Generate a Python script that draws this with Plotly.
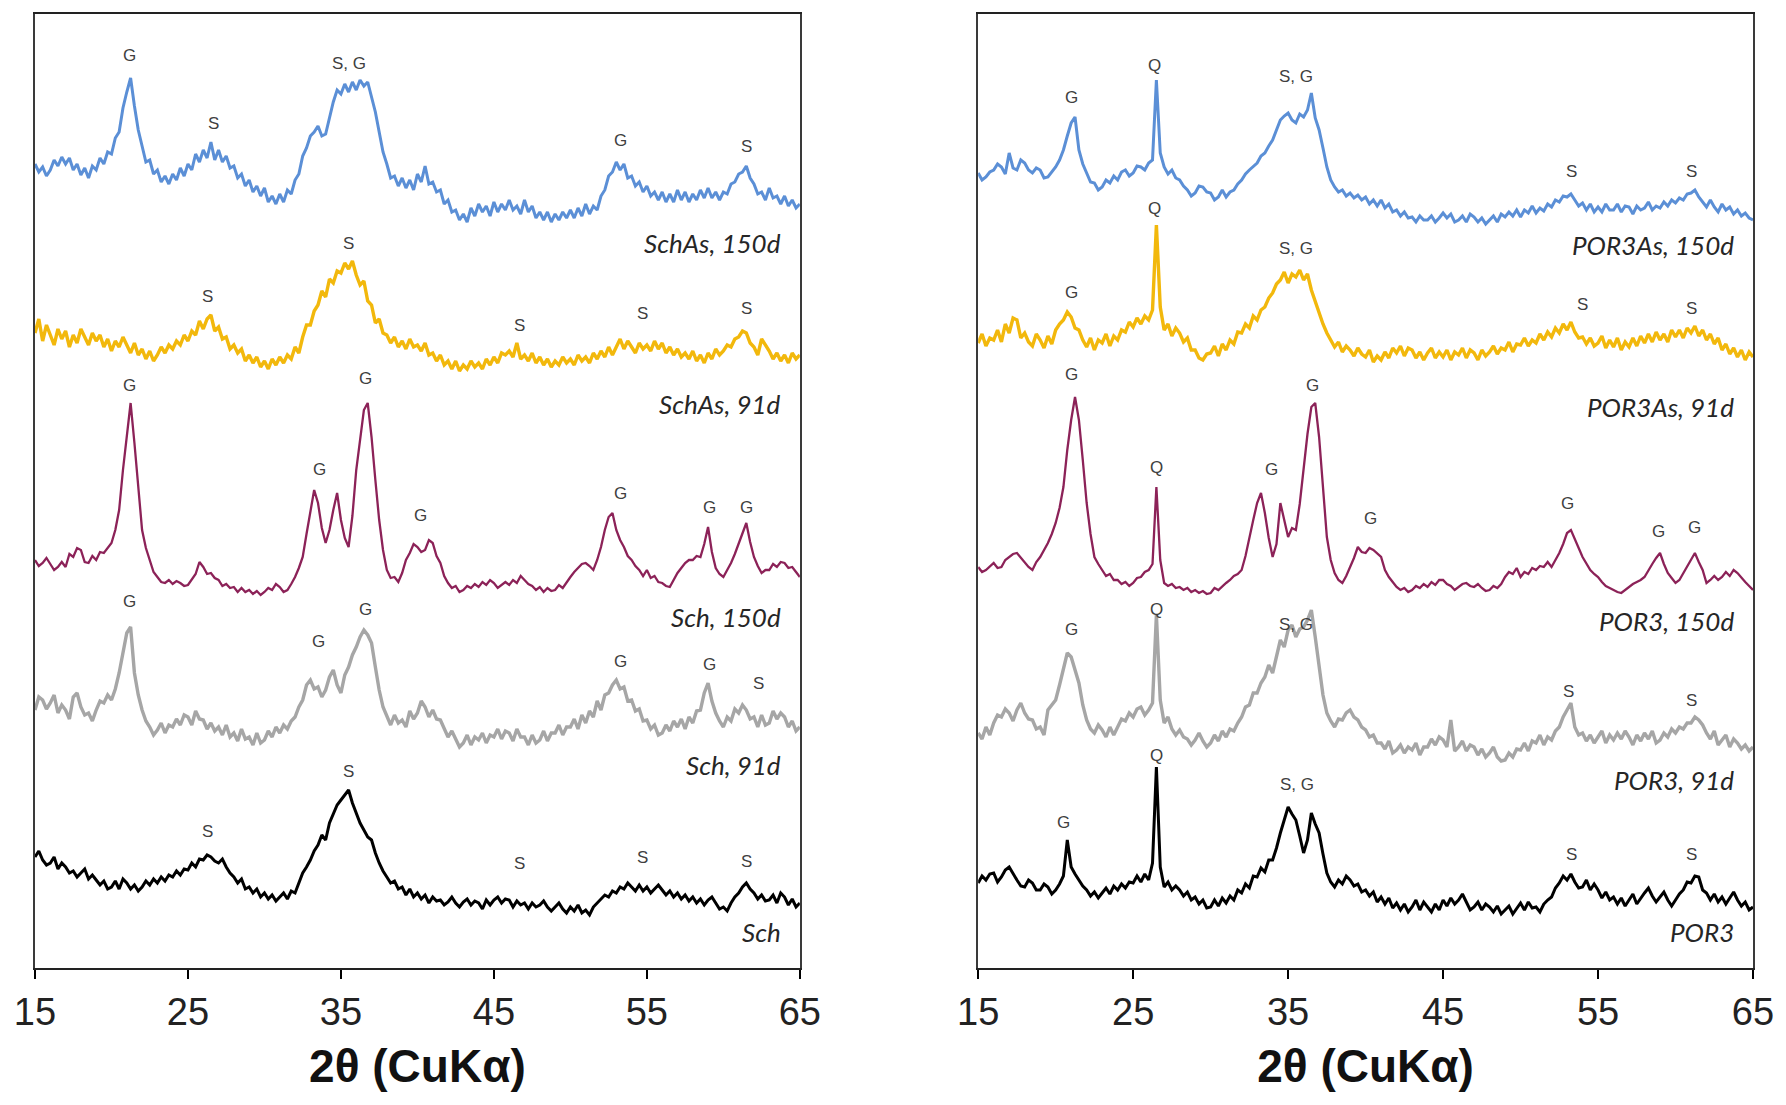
import numpy as np
import plotly.graph_objects as go

# XRD patterns, intensity (a.u.) sampled every 0.25 deg 2-theta from 15 to 65 deg
STEP = 0.25
THETA_START = 15

# ---- Schwertmannite series ----
schas_150d = [
    66, 58, 63, 54, 60, 70, 64, 73, 66, 72, 60, 66, 55, 62, 52, 64, 60, 72, 66, 78,
    76, 92, 98, 122, 138, 152, 124, 100, 84, 68, 70, 56, 60, 48, 54, 46, 56, 50, 62, 54,
    66, 60, 76, 68, 80, 72, 88, 70, 80, 68, 74, 62, 64, 52, 56, 44, 50, 38, 44, 34,
    42, 28, 34, 26, 36, 28, 40, 36, 50, 56, 74, 82, 94, 98, 104, 94, 96, 112, 128, 140,
    136, 146, 138, 148, 140, 150, 144, 148, 132, 118, 98, 78, 66, 52, 54, 44, 52, 42, 50, 40,
    56, 48, 64, 46, 48, 38, 40, 26, 30, 18, 20, 10, 16, 8, 22, 14, 26, 18, 24, 14,
    28, 18, 26, 20, 30, 20, 24, 16, 30, 18, 24, 12, 18, 10, 18, 8, 16, 10, 18, 12,
    20, 12, 22, 14, 26, 16, 24, 20, 34, 40, 54, 58, 68, 60, 66, 52, 54, 44, 48, 38,
    44, 34, 38, 30, 38, 28, 36, 28, 40, 30, 38, 28, 36, 30, 40, 32, 42, 32, 38, 30,
    38, 36, 46, 48, 56, 58, 64, 52, 46, 36, 38, 30, 42, 32, 34, 26, 34, 24, 30, 22,
    26,
]
schas_91d = [
    42, 56, 34, 50, 40, 30, 46, 36, 44, 28, 40, 32, 46, 38, 30, 42, 34, 40, 28, 36,
    24, 34, 28, 38, 30, 22, 32, 20, 26, 16, 24, 14, 20, 28, 22, 30, 26, 34, 30, 40,
    34, 44, 40, 54, 46, 56, 60, 44, 48, 36, 38, 26, 30, 22, 26, 14, 20, 12, 18, 8,
    14, 6, 16, 10, 18, 12, 20, 16, 28, 22, 38, 50, 50, 64, 70, 84, 78, 96, 92, 104,
    102, 112, 106, 114, 100, 90, 94, 74, 70, 52, 56, 42, 40, 32, 38, 28, 34, 26, 36, 28,
    30, 24, 32, 20, 22, 14, 20, 10, 14, 6, 14, 4, 10, 6, 14, 8, 12, 6, 16, 10,
    18, 12, 22, 20, 24, 18, 32, 16, 20, 14, 22, 12, 18, 10, 16, 8, 14, 10, 18, 12,
    16, 10, 20, 14, 18, 12, 22, 16, 24, 18, 28, 20, 28, 36, 26, 34, 28, 22, 32, 26,
    30, 24, 34, 26, 32, 22, 28, 20, 26, 18, 22, 16, 24, 14, 20, 12, 22, 16, 26, 20,
    24, 30, 28, 36, 38, 44, 42, 32, 28, 20, 36, 30, 24, 16, 22, 14, 20, 12, 22, 16,
    20,
]
sch_150d = [
    40, 34, 37, 42, 36, 30, 33, 38, 33, 46, 43, 52, 50, 38, 37, 44, 40, 48, 47, 52,
    57, 70, 90, 130, 163, 197, 157, 112, 70, 52, 40, 28, 23, 18, 17, 20, 16, 19, 17, 14,
    15, 20, 26, 38, 33, 26, 27, 22, 20, 14, 16, 12, 13, 8, 12, 8, 10, 6, 9, 5,
    8, 12, 10, 16, 13, 8, 10, 16, 23, 32, 43, 66, 90, 110, 97, 72, 57, 70, 90, 107,
    80, 62, 53, 84, 130, 162, 190, 197, 163, 120, 80, 50, 30, 22, 23, 18, 27, 40, 47, 56,
    53, 48, 50, 60, 57, 44, 37, 24, 17, 12, 14, 8, 10, 14, 12, 16, 13, 18, 15, 20,
    17, 12, 15, 18, 15, 20, 17, 24, 20, 16, 14, 10, 13, 8, 12, 9, 10, 15, 12, 18,
    23, 28, 32, 36, 37, 34, 30, 40, 53, 70, 83, 87, 70, 60, 53, 44, 40, 34, 30, 24,
    30, 22, 24, 18, 17, 14, 13, 20, 27, 32, 37, 40, 40, 44, 43, 56, 73, 48, 32, 26,
    23, 30, 37, 46, 57, 66, 77, 58, 43, 34, 27, 30, 30, 36, 33, 38, 37, 32, 33, 28,
    23,
]
sch_91d = [
    45, 58, 55, 46, 52, 60, 42, 50, 45, 36, 58, 62, 48, 40, 42, 34, 45, 54, 52, 60,
    55, 66, 82, 104, 122, 128, 82, 60, 45, 34, 28, 20, 25, 32, 22, 30, 28, 36, 30, 40,
    38, 30, 44, 36, 35, 26, 32, 24, 28, 20, 30, 18, 22, 14, 26, 16, 18, 10, 22, 12,
    15, 24, 18, 28, 22, 30, 26, 34, 38, 48, 55, 70, 75, 66, 68, 58, 65, 78, 85, 70,
    62, 80, 88, 100, 108, 118, 125, 120, 112, 88, 65, 48, 38, 30, 40, 32, 35, 28, 44, 36,
    42, 54, 48, 38, 45, 36, 35, 26, 18, 24, 16, 8, 12, 20, 10, 18, 15, 22, 12, 20,
    18, 26, 16, 24, 22, 14, 26, 18, 18, 10, 20, 12, 15, 24, 14, 22, 22, 30, 20, 28,
    28, 36, 26, 40, 32, 44, 38, 54, 45, 60, 62, 70, 75, 66, 68, 54, 55, 44, 46, 34,
    35, 26, 30, 20, 22, 30, 24, 34, 28, 36, 26, 38, 32, 44, 45, 62, 72, 54, 42, 34,
    28, 38, 34, 46, 42, 50, 45, 36, 38, 28, 40, 30, 32, 44, 36, 42, 38, 28, 34, 24,
    28,
]
sch = [
    58, 64, 55, 50, 52, 58, 46, 52, 48, 42, 44, 38, 42, 46, 36, 40, 35, 30, 34, 26,
    28, 34, 26, 36, 32, 26, 30, 24, 28, 34, 30, 36, 32, 38, 34, 40, 38, 44, 40, 46,
    45, 52, 48, 56, 55, 60, 58, 54, 52, 56, 48, 42, 38, 32, 36, 26, 28, 22, 26, 18,
    22, 16, 20, 14, 18, 22, 16, 24, 22, 32, 42, 48, 55, 64, 70, 80, 75, 92, 102, 110,
    115, 120, 125, 112, 102, 92, 85, 78, 75, 62, 52, 44, 38, 32, 34, 26, 28, 20, 26, 18,
    22, 16, 20, 12, 18, 14, 15, 10, 13, 18, 12, 8, 13, 16, 10, 14, 12, 6, 15, 10,
    15, 18, 12, 16, 15, 8, 14, 10, 12, 6, 12, 8, 10, 14, 8, 4, 8, 12, 6, 2,
    8, 4, 10, 2, 5, 0, 8, 12, 15, 20, 18, 24, 22, 28, 26, 32, 28, 24, 30, 24,
    28, 22, 26, 30, 25, 20, 24, 18, 22, 16, 20, 14, 18, 12, 16, 10, 15, 18, 12, 6,
    8, 4, 12, 18, 22, 28, 32, 26, 22, 16, 20, 14, 15, 20, 12, 22, 18, 10, 16, 8,
    12,
]

# ---- POR3 series ----
por3as_150d = [
    55, 48, 51, 56, 58, 64, 61, 54, 75, 60, 58, 68, 65, 58, 55, 60, 58, 50, 51, 56,
    61, 68, 78, 92, 105, 111, 78, 64, 55, 46, 45, 38, 41, 48, 45, 52, 48, 56, 58, 52,
    55, 62, 61, 58, 65, 68, 148, 75, 61, 54, 58, 50, 48, 42, 38, 32, 35, 42, 41, 36,
    35, 28, 31, 38, 31, 36, 38, 44, 48, 54, 58, 62, 65, 72, 75, 82, 88, 98, 108, 112,
    115, 108, 105, 114, 111, 118, 135, 110, 98, 80, 61, 48, 41, 36, 38, 32, 35, 30, 33, 28,
    31, 24, 28, 22, 28, 20, 24, 16, 18, 12, 16, 10, 11, 6, 12, 8, 8, 12, 6, 10,
    15, 10, 14, 6, 8, 12, 6, 14, 11, 6, 10, 4, 8, 12, 6, 14, 11, 16, 12, 18,
    11, 18, 15, 22, 15, 20, 17, 24, 21, 28, 26, 32, 31, 34, 28, 22, 25, 18, 24, 16,
    21, 16, 24, 18, 18, 24, 16, 22, 21, 14, 22, 18, 20, 26, 18, 22, 20, 26, 22, 28,
    25, 30, 28, 34, 35, 38, 31, 26, 21, 28, 21, 16, 24, 18, 21, 14, 18, 12, 15, 10,
    8,
]
por3as_91d = [
    25, 34, 22, 30, 28, 38, 26, 44, 35, 50, 48, 30, 35, 26, 22, 34, 28, 20, 32, 24,
    38, 44, 48, 56, 51, 40, 38, 28, 21, 30, 18, 28, 25, 34, 22, 32, 28, 38, 36, 46,
    41, 50, 44, 52, 48, 58, 143, 61, 38, 44, 32, 40, 35, 26, 30, 18, 18, 10, 8, 14,
    15, 22, 12, 24, 18, 28, 24, 36, 35, 44, 40, 52, 48, 58, 61, 70, 75, 84, 88, 96,
    85, 94, 91, 98, 88, 94, 78, 66, 55, 44, 35, 28, 21, 26, 16, 22, 18, 12, 20, 14,
    11, 18, 6, 12, 8, 16, 10, 20, 15, 22, 12, 20, 18, 10, 16, 8, 15, 20, 10, 16,
    11, 18, 8, 16, 13, 20, 10, 18, 15, 8, 18, 12, 16, 22, 14, 20, 18, 26, 16, 24,
    23, 30, 22, 28, 25, 34, 28, 36, 31, 40, 35, 44, 38, 46, 36, 30, 31, 24, 30, 22,
    25, 32, 20, 28, 21, 30, 18, 26, 21, 30, 22, 32, 25, 34, 26, 36, 28, 34, 26, 38,
    31, 38, 30, 40, 35, 42, 32, 38, 28, 34, 24, 30, 18, 24, 14, 20, 11, 18, 8, 16,
    11,
]
por3_150d = [
    33, 28, 30, 34, 37, 32, 33, 40, 43, 46, 47, 42, 37, 33, 30, 38, 43, 50, 57, 66,
    77, 92, 113, 150, 180, 203, 180, 140, 97, 66, 43, 36, 30, 24, 26, 20, 20, 16, 18, 14,
    17, 22, 23, 28, 30, 36, 113, 40, 17, 14, 16, 12, 13, 10, 12, 8, 10, 7, 9, 6,
    7, 12, 10, 14, 17, 20, 24, 26, 30, 44, 63, 80, 97, 107, 87, 62, 43, 56, 97, 80,
    63, 72, 70, 96, 130, 166, 193, 197, 163, 110, 63, 40, 27, 20, 17, 24, 33, 42, 53, 48,
    47, 52, 50, 46, 43, 30, 23, 18, 13, 10, 12, 8, 10, 14, 12, 16, 13, 18, 15, 20,
    20, 16, 14, 10, 13, 16, 17, 14, 13, 16, 12, 9, 10, 14, 12, 16, 23, 28, 26, 32,
    23, 28, 26, 32, 30, 34, 33, 38, 33, 40, 47, 56, 67, 70, 60, 52, 43, 36, 30, 26,
    23, 18, 14, 12, 10, 8, 7, 10, 13, 16, 18, 20, 23, 30, 36, 42, 47, 36, 27, 22,
    17, 20, 27, 34, 40, 47, 38, 30, 17, 20, 24, 20, 23, 28, 24, 30, 27, 22, 18, 14,
    10,
]
por3_91d = [
    32, 26, 38, 30, 42, 50, 48, 56, 52, 44, 55, 62, 52, 46, 45, 36, 38, 30, 55, 60,
    65, 80, 98, 112, 108, 96, 82, 60, 45, 36, 32, 40, 35, 28, 38, 30, 38, 46, 44, 52,
    48, 56, 58, 50, 55, 62, 150, 65, 42, 48, 36, 30, 35, 28, 26, 20, 25, 32, 24, 18,
    22, 30, 24, 34, 28, 36, 34, 42, 48, 58, 60, 72, 72, 82, 88, 100, 92, 108, 125, 118,
    135, 140, 128, 136, 138, 145, 155, 128, 98, 70, 52, 44, 38, 46, 45, 52, 55, 48, 45, 38,
    35, 28, 30, 22, 22, 16, 24, 12, 15, 20, 12, 18, 15, 22, 10, 18, 18, 26, 20, 28,
    25, 18, 45, 14, 18, 24, 14, 20, 18, 10, 16, 8, 12, 18, 8, 4, 5, 12, 8, 16,
    15, 22, 14, 24, 22, 30, 20, 28, 25, 34, 38, 48, 55, 62, 38, 30, 32, 24, 30, 22,
    28, 34, 22, 30, 25, 32, 26, 34, 28, 20, 30, 24, 32, 26, 34, 22, 25, 32, 28, 36,
    32, 38, 36, 42, 42, 48, 45, 40, 32, 26, 34, 20, 25, 30, 18, 26, 22, 16, 20, 14,
    18,
]
por3 = [
    37, 44, 40, 46, 47, 38, 43, 50, 53, 46, 40, 34, 33, 40, 37, 30, 30, 36, 33, 26,
    30, 36, 44, 80, 53, 46, 40, 34, 30, 24, 28, 22, 27, 32, 26, 34, 30, 36, 32, 38,
    37, 44, 38, 46, 40, 57, 153, 53, 33, 38, 30, 34, 30, 24, 28, 20, 23, 16, 20, 12,
    13, 20, 14, 22, 17, 24, 20, 30, 27, 36, 32, 44, 43, 52, 48, 60, 60, 72, 87, 100,
    113, 106, 100, 84, 67, 80, 107, 96, 87, 66, 47, 38, 33, 40, 36, 44, 40, 34, 36, 28,
    30, 24, 28, 18, 23, 16, 22, 12, 17, 10, 16, 8, 13, 20, 10, 18, 13, 8, 16, 10,
    20, 14, 22, 16, 20, 26, 18, 10, 13, 18, 10, 16, 13, 8, 14, 6, 10, 14, 6, 12,
    17, 10, 18, 12, 13, 8, 16, 20, 23, 32, 37, 44, 40, 46, 38, 32, 33, 40, 30, 36,
    30, 22, 28, 20, 23, 16, 22, 14, 20, 26, 16, 22, 27, 32, 24, 18, 23, 28, 20, 14,
    20, 26, 30, 38, 37, 44, 43, 30, 27, 20, 26, 18, 23, 16, 22, 28, 20, 14, 18, 10,
    13,
]

# sample names, vertical stacking offsets, line colours and widths
left_series = [
    ("SchAs, 150d", schas_150d, 738, "#5B8FD6", 3.0),
    ("SchAs, 91d", schas_91d, 593, "#F2B80C", 3.4),
    ("Sch, 150d", sch_150d, 368, "#8C2258", 2.3),
    ("Sch, 91d", sch_91d, 213, "#A6A6A6", 3.4),
    ("Sch", sch, 53, "#000000", 3.0),
]
right_series = [
    ("POR3As, 150d", por3as_150d, 740, "#5B8FD6", 3.0),
    ("POR3As, 91d", por3as_91d, 600, "#F2B80C", 3.4),
    ("POR3, 150d", por3_150d, 368, "#8C2258", 2.3),
    ("POR3, 91d", por3_91d, 203, "#A6A6A6", 3.4),
    ("POR3", por3, 48, "#000000", 3.0),
]

# name label heights for each pattern
left_name_y = [725, 564, 351, 203, 36]
right_name_y = [723, 561, 347, 188, 36]

# phase labels: G = goethite, S = schwertmannite, Q = quartz  (text, 2theta, height)
left_peaks = [
    ("G", 21.2, 913), ("S", 26.7, 845), ("S, G", 35.5, 905), ("G", 53.3, 828), ("S", 61.5, 822),
    ("S", 26.3, 672), ("S", 35.5, 725), ("S", 46.7, 643), ("S", 54.7, 655), ("S", 61.5, 660),
    ("G", 21.2, 583), ("G", 33.6, 499), ("G", 36.6, 590), ("G", 40.2, 453), ("G", 53.3, 475),
    ("G", 59.1, 461), ("G", 61.5, 461),
    ("G", 21.2, 367), ("G", 33.5, 327), ("G", 36.6, 359), ("G", 53.3, 307), ("G", 59.1, 304),
    ("S", 62.3, 285),
    ("S", 26.3, 137), ("S", 35.5, 197), ("S", 46.7, 105), ("S", 54.7, 111), ("S", 61.5, 107),
]
right_peaks = [
    ("G", 21.0, 871), ("Q", 26.4, 903), ("S, G", 35.5, 892), ("S", 53.3, 797), ("S", 61.0, 797),
    ("G", 21.0, 676), ("Q", 26.4, 760), ("S, G", 35.5, 720), ("S", 54.0, 664), ("S", 61.0, 660),
    ("G", 21.0, 594), ("Q", 26.5, 501), ("G", 33.9, 499), ("G", 36.6, 583), ("G", 40.3, 450),
    ("G", 53.0, 465), ("G", 58.9, 437), ("G", 61.2, 441),
    ("G", 21.0, 339), ("Q", 26.5, 359), ("S, G", 35.5, 344), ("S", 53.1, 277), ("S", 61.0, 268),
    ("G", 20.5, 146), ("Q", 26.5, 213), ("S, G", 35.6, 184), ("S", 53.3, 114), ("S", 61.0, 114),
]

x_ticks = [15, 25, 35, 45, 55, 65]
x_title = "<b>2θ (CuKα)</b>"

fig = go.Figure()

annotations = []
for series, names_y, peaks, xa, ya in [
    (left_series, left_name_y, left_peaks, "x", "y"),
    (right_series, right_name_y, right_peaks, "x2", "y2"),
]:
    for (name, counts, offset, color, lw), ny in zip(series, names_y):
        counts = np.asarray(counts, dtype=float)
        theta = THETA_START + STEP * np.arange(len(counts))
        fig.add_trace(go.Scatter(
            x=theta, y=counts + offset, mode="lines", name=name,
            line=dict(color=color, width=lw), xaxis=xa, yaxis=ya,
            hoverinfo="skip", showlegend=False,
        ))
        annotations.append(dict(
            x=63.9, y=ny, xref=xa, yref=ya, text=name, showarrow=False,
            xanchor="right", yanchor="middle",
            font=dict(family="Lato", size=26, color="#262626", style="italic"),
        ))
    for text, th, h in peaks:
        annotations.append(dict(
            x=th, y=h, xref=xa, yref=ya, text=text, showarrow=False,
            xanchor="center", yanchor="middle",
            font=dict(family="Liberation Sans", size=17, color="#404040"),
        ))

axis_x = dict(
    range=[15, 65], tickvals=x_ticks, ticks="outside", ticklen=9, tickwidth=1.5,
    tickcolor="#000000", showline=True, linecolor="#222222", linewidth=2, mirror=True,
    showgrid=False, zeroline=False,
    tickfont=dict(family="Liberation Sans", size=38, color="#222222"),
    title=dict(text=x_title, standoff=18,
               font=dict(family="Liberation Sans", size=46, color="#111111")),
)
axis_y = dict(
    range=[0, 954], showticklabels=False, ticks="", showgrid=False, zeroline=False,
    showline=True, linecolor="#3a3a3a", linewidth=1.5, mirror=True,
)

fig.update_layout(
    width=1786, height=1105,
    margin=dict(l=35, r=26, t=14, b=137),
    paper_bgcolor="white", plot_bgcolor="white",
    xaxis=dict(domain=[0, 0.4452], anchor="y", **axis_x),
    xaxis2=dict(domain=[0.549, 1], anchor="y2", **axis_x),
    yaxis=dict(domain=[0, 1], anchor="x", **axis_y),
    yaxis2=dict(domain=[0, 1], anchor="x2", **axis_y),
    annotations=annotations,
)

fig.write_html("out.html")
